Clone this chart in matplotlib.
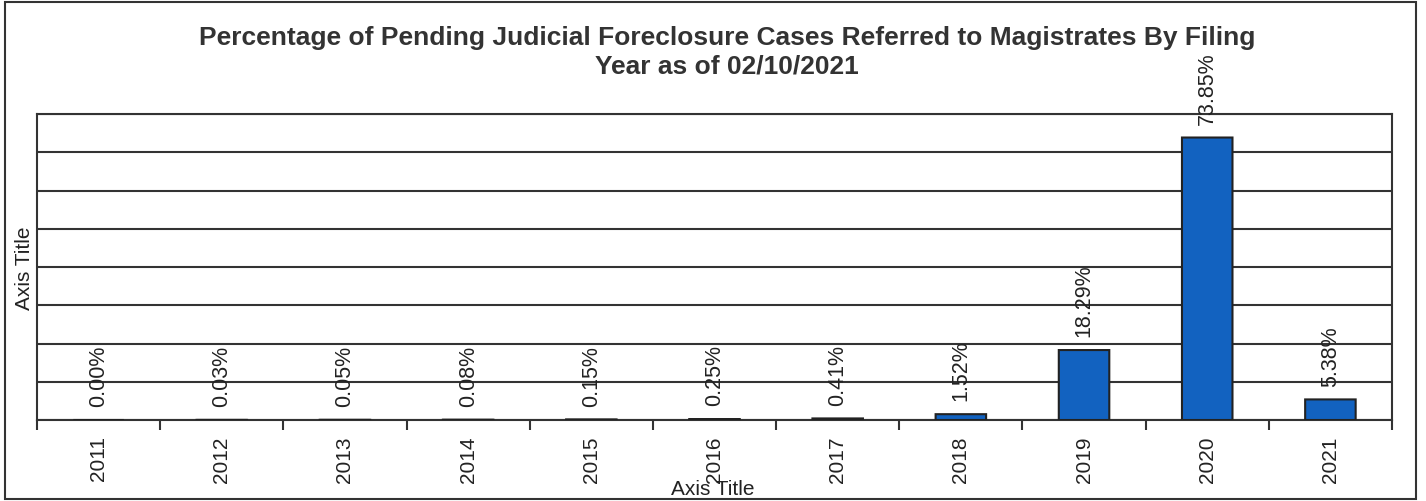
import matplotlib.pyplot as plt
from matplotlib.patches import Rectangle
from matplotlib.ticker import FixedLocator

plt.rcParams['font.family'] = ['Liberation Sans', 'DejaVu Sans']

years = ["2011", "2012", "2013", "2014", "2015", "2016",
         "2017", "2018", "2019", "2020", "2021"]
pct = [0.00, 0.03, 0.05, 0.08, 0.15, 0.25, 0.41, 1.52, 18.29, 73.85, 5.38]
labels = ["0.00%", "0.03%", "0.05%", "0.08%", "0.15%", "0.25%",
          "0.41%", "1.52%", "18.29%", "73.85%", "5.38%"]

title_lines = ["Percentage of Pending Judicial Foreclosure Cases Referred to Magistrates By Filing",
               "Year as of 02/10/2021"]

bar_color = "#1262c0"
line_color = "#333333"
text_color = "#222222"

fig = plt.figure(figsize=(14.26, 5.02), dpi=100)
fig.patch.set_facecolor("white")

# outer chart border
fig.patches.append(Rectangle((5 / 1426, 2 / 502), 1411 / 1426, 497 / 502,
                             transform=fig.transFigure, fill=False,
                             edgecolor=line_color, linewidth=1.5))

ax = fig.add_axes([37 / 1426, 81 / 502, 1355 / 1426, 306 / 502])

x = list(range(len(years)))
bars = ax.bar(x, pct, width=0.41, color=bar_color, edgecolor="#222222",
              linewidth=1.5, zorder=3)
for b in bars:
    b.set_snap(False)

for xi, v, lab in zip(x, pct, labels):
    ax.annotate(lab, (xi, v), xytext=(0, 10), textcoords="offset points",
                rotation=90, ha="center", va="bottom", fontsize=15.5,
                color=text_color, zorder=4)

ax.set_xlim(-0.5, len(years) - 0.5)
ax.set_ylim(0, 80)
ax.set_yticks(range(0, 81, 10))
ax.set_yticklabels([])
ax.tick_params(axis="y", length=0)
ax.grid(axis="y", color=line_color, linewidth=1.5, zorder=1)

ax.set_xticks(x)
ax.set_xticklabels(years, rotation=90, fontsize=15, color=text_color)
ax.tick_params(axis="x", which="major", length=0, pad=11)
ax.xaxis.set_minor_locator(FixedLocator([i - 0.5 for i in range(len(years) + 1)]))
ax.tick_params(axis="x", which="minor", length=7, width=1.5,
               color=line_color, direction="out")

for s in ax.spines.values():
    s.set_color(line_color)
    s.set_linewidth(1.5)

fig.text(713 / 1426, 1 - 490 / 502, "Axis Title", ha="center", va="center",
         fontsize=15, color=text_color)
fig.text(25 / 1426, 1 - 268 / 502, "Axis Title", ha="center", va="center",
         rotation=90, fontsize=15, color=text_color)

# title, one text per line
fig.text(727 / 1426, 1 - 38 / 502, title_lines[0], ha="center", va="center",
         fontsize=19, fontweight="bold", color="#333333")
fig.text(727 / 1426, 1 - 66 / 502, title_lines[1], ha="center", va="center",
         fontsize=19, fontweight="bold", color="#333333")

fig.savefig("out.png", dpi=100)
